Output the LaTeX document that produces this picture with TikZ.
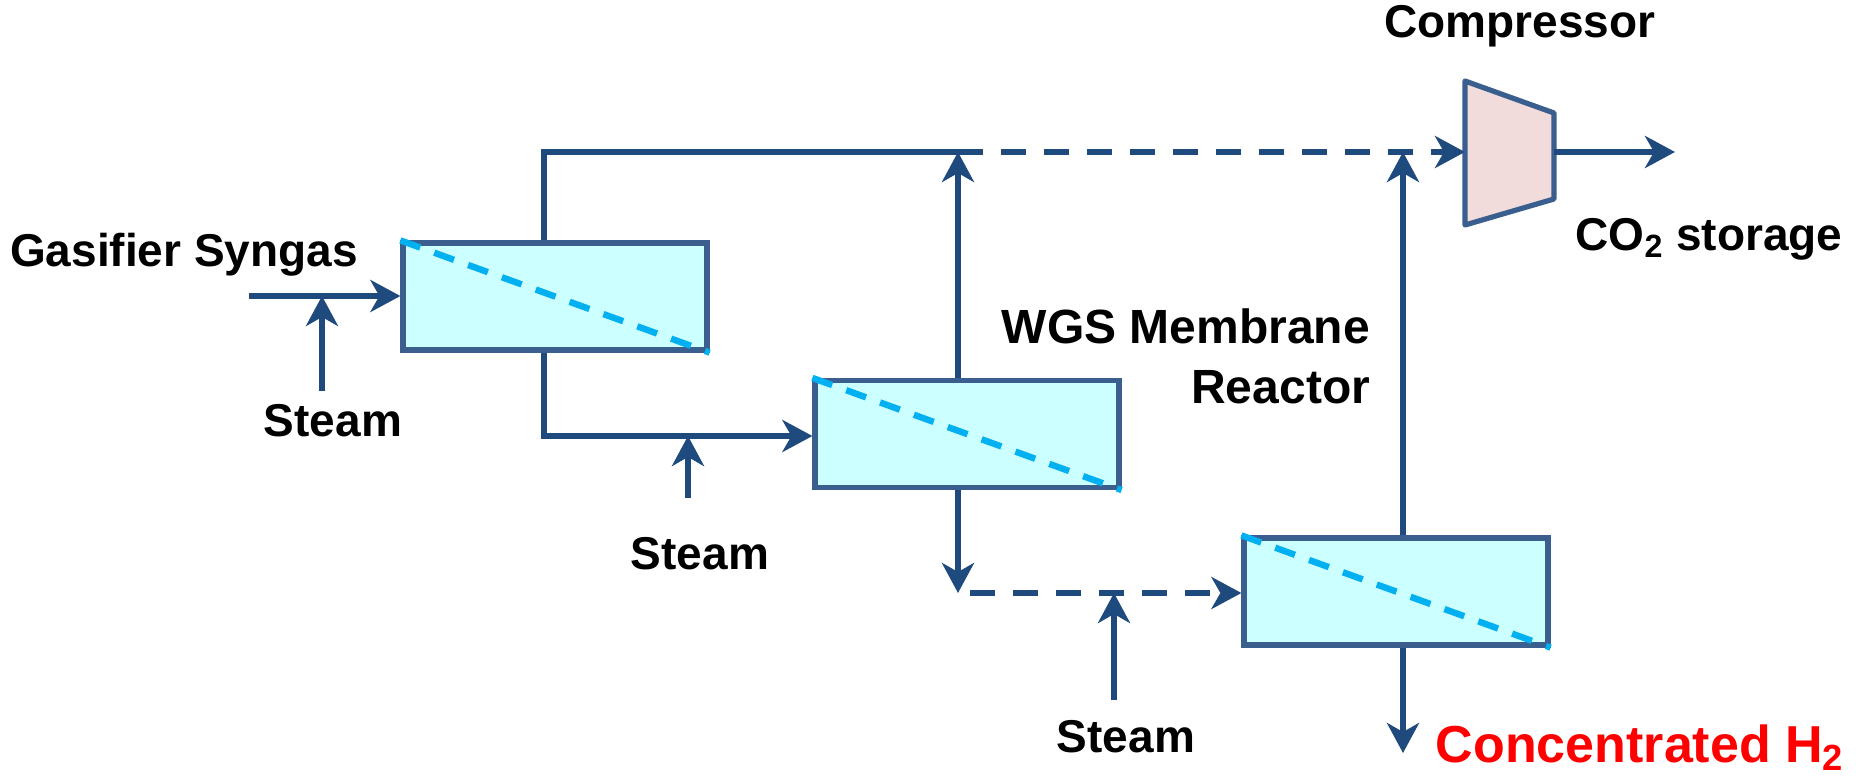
\documentclass[tikz,border=0pt]{standalone}
\usepackage{fontspec}
\setmainfont{Liberation Sans}
\usetikzlibrary{arrows.meta,calc}
\definecolor{flowc}{HTML}{1F4A7E}
\definecolor{boxb}{HTML}{3A5F8F}
\definecolor{boxf}{HTML}{CCFFFF}
\definecolor{membc}{HTML}{00B0F0}
\definecolor{compf}{HTML}{F2DCDB}
\definecolor{redc}{HTML}{FF0000}
\tikzset{
  reactor/.style={draw=boxb,fill=boxf,line width=2.6pt,minimum width=152pt,minimum height=53.5pt,inner sep=0pt},
  memb/.style={draw=membc,line width=3.2pt,dash pattern=on 10.5pt off 7.5pt},
  flow/.style={draw=flowc,line width=3pt,-{Stealth[length=15pt,width=16pt,inset=4.5pt]}},
  flowline/.style={draw=flowc,line width=3pt},
  dflow/.style={flow,dash pattern=on 12.5pt off 9pt},
  lbl/.style={font=\fontsize{23}{30}\selectfont\bfseries,inner sep=0pt},
}
\begin{document}
\begin{tikzpicture}[x=0.5pt,y=-0.5pt]
\useasboundingbox (0,0) rectangle (1859,781);
% reactors
\node[reactor] (r1) at (555,296.5) {};
\node[reactor] (r2) at (967,434) {};
\node[reactor] (r3) at (1396,591.5) {};
\draw[memb] (r1.north west) -- (r1.south east);
\draw[memb] (r2.north west) -- (r2.south east);
\draw[memb] (r3.north west) -- (r3.south east);
% compressor
\draw[boxb,fill=compf,line width=2.6pt,line join=round] (1465,81) -- (1554,113) -- (1554,199) -- (1465,225) -- cycle;
\coordinate (cin) at (1465,152);
\coordinate (cout) at (1554,152);
\coordinate (cend) at (1675,152);
% junctions
\coordinate (x1) at (544,0);
\coordinate (j1) at (958,152);
\coordinate (j2) at (1403,152);
\coordinate (bj) at (544,436);
\coordinate (d1) at (958,593);
\coordinate (gin) at (249,296);
\coordinate (s1) at (322,296);
\coordinate (s1b) at (322,391);
\coordinate (s2) at (688,436);
\coordinate (s2b) at (688,498);
\coordinate (s3) at (1114,593);
\coordinate (s3b) at (1114,700);
\coordinate (h2) at (1403,753);
% flows
\draw[flowline] (x1 |- r1.north) |- (j1);
\draw[dflow] (j1) -- (cin);
\draw[flow] (j1 |- r2.north) -- (j1);
\draw[flow] (j2 |- r3.north) -- (j2);
\draw[flow] (cout) -- (cend);
\draw[flow] (x1 |- r1.south) |- (r2.west |- bj);
\draw[flow] (s2b) -- (s2);
\draw[flow] (gin) -- (r1.west |- gin);
\draw[flow] (s1b) -- (s1);
\draw[flow] (j1 |- r2.south) -- (d1);
\draw[dflow] ([xshift=6pt]d1) -- (r3.west |- d1);
\draw[flow] (s3b) -- (s3);
\draw[flow] (h2 |- r3.south) -- (h2);
% labels
\node[lbl] (lg) at (184,255) {Gasifier Syngas};
\node[lbl] (ls1) at (333,421) {Steam};
\node[lbl] (ls2) at (700,554) {Steam};
\node[lbl] (ls3) at (1126,737) {Steam};
\node[lbl,align=right,font=\fontsize{24}{30}\selectfont\bfseries] (lw) at (1186,356) {WGS Membrane\\Reactor};
\node[lbl] (lc) at (1520,26) {Compressor};
\node[lbl] (lco) at (1709,239) {CO\textsubscript{2} storage};
\node[lbl,text=redc,font=\fontsize{26}{30}\selectfont\bfseries] (lh) at (1640,748) {Concentrated H\textsubscript{2}};
\end{tikzpicture}
\end{document}
